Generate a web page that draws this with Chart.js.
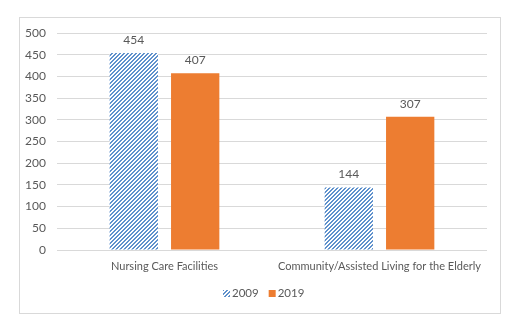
<!DOCTYPE html>
<html>
<head>
<meta charset="utf-8">
<script src="https://cdn.jsdelivr.net/npm/chart.js@4.4.1/dist/chart.umd.min.js"></script>
<style>
  html, body { margin: 0; padding: 0; background: #fff; }
  #wrap { position: relative; width: 518px; height: 330px; }
  #frame { position: absolute; left: 19px; top: 17px; width: 480px; height: 295px; border: 1px solid #d9d9d9; pointer-events: none; }
  canvas { position: absolute; left: 0; top: 0; }
</style>
</head>
<body>
<div id="wrap">
  <div id="frame"></div>
  <canvas id="c" width="518" height="330"></canvas>
</div>
<script>
const categories = ['Nursing Care Facilities', 'Community/Assisted Living for the Elderly'];
const seriesNames = ['2009', '2019'];
const values2009 = [454, 144];
const values2019 = [407, 307];
const yTicks = [0, 50, 100, 150, 200, 250, 300, 350, 400, 450, 500];

const TEXT = '#595959';
const FONT = "Lato, 'Open Sans', sans-serif";

// Diagonal blue hatch (///) used for the 2009 series
function makeHatch() {
  const size = 4;
  const p = document.createElement('canvas');
  p.width = size; p.height = size;
  const g = p.getContext('2d');
  g.fillStyle = '#ffffff';
  g.fillRect(0, 0, size, size);
  g.fillStyle = '#5f91cc';
  for (let y = 0; y < size; y++) {
    for (let x = 0; x < size; x++) {
      if ((x + y) % 4 < 2) g.fillRect(x, y, 1, 1);
    }
  }
  return g.createPattern(p, 'repeat');
}
const hatch = makeHatch();

// Value labels above each bar
const valueLabels = {
  id: 'valueLabels',
  afterDatasetsDraw(chart) {
    const ctx = chart.ctx;
    ctx.save();
    ctx.font = '12px ' + FONT;
    ctx.fillStyle = TEXT;
    ctx.textAlign = 'center';
    ctx.textBaseline = 'middle';
    chart.data.datasets.forEach((ds, i) => {
      chart.getDatasetMeta(i).data.forEach((bar, j) => {
        ctx.fillText(String(ds.data[j]), bar.x, bar.y - 13);
      });
    });
    ctx.restore();
  }
};

// Compact legend under the axis labels: small swatch, tight text gap
const compactLegend = {
  id: 'compactLegend',
  afterDraw(chart) {
    const ctx = chart.ctx;
    const box = 7, textGap = 2, itemGap = 10;
    const cy = chart.scales.x.bottom + 16;
    ctx.save();
    ctx.font = '11.5px ' + FONT;
    ctx.textBaseline = 'middle';
    ctx.textAlign = 'left';
    const items = chart.data.datasets.map(ds => ({
      text: ds.label, fill: ds.backgroundColor,
      w: box + textGap + ctx.measureText(ds.label).width
    }));
    const total = items.reduce((s, it) => s + it.w, 0) + itemGap * (items.length - 1);
    const centre = (chart.chartArea.left + chart.chartArea.right) / 2 - 8;
    let x = Math.round(centre - total / 2);
    items.forEach(it => {
      ctx.fillStyle = it.fill;
      ctx.fillRect(x, Math.round(cy - box / 2), box, box);
      ctx.fillStyle = TEXT;
      ctx.fillText(it.text, x + box + textGap, cy);
      x += it.w + itemGap;
    });
    ctx.restore();
  }
};

new Chart(document.getElementById('c'), {
  type: 'bar',
  data: {
    labels: categories,
    datasets: [
      { label: seriesNames[0], data: values2009, backgroundColor: hatch, borderWidth: 0 },
      { label: seriesNames[1], data: values2019, backgroundColor: '#ed7d31', borderWidth: 0 }
    ]
  },
  options: {
    responsive: false,
    animation: false,
    events: [],
    layout: { padding: { top: 33, right: 31, bottom: 53, left: 0 } },
    datasets: { bar: { categoryPercentage: 0.571, barPercentage: 0.787 } },
    scales: {
      x: {
        afterFit(axis) { axis.height = 27; },
        grid: { display: false, drawTicks: false },
        border: { display: false },
        ticks: { color: TEXT, font: { family: FONT, size: 11 }, padding: 10, maxRotation: 0, autoSkip: false }
      },
      y: {
        min: 0, max: 500,
        afterBuildTicks(axis) { axis.ticks = yTicks.map(v => ({ value: v })); },
        afterFit(axis) { axis.width = 57; },
        grid: { color: '#d9d9d9', lineWidth: 1, drawTicks: false },
        border: { display: false },
        ticks: { color: TEXT, font: { family: FONT, size: 12 }, padding: 11 }
      }
    },
    plugins: {
      legend: { display: false },
      tooltip: { enabled: false }
    }
  },
  plugins: [valueLabels, compactLegend]
});
</script>
</body>
</html>
